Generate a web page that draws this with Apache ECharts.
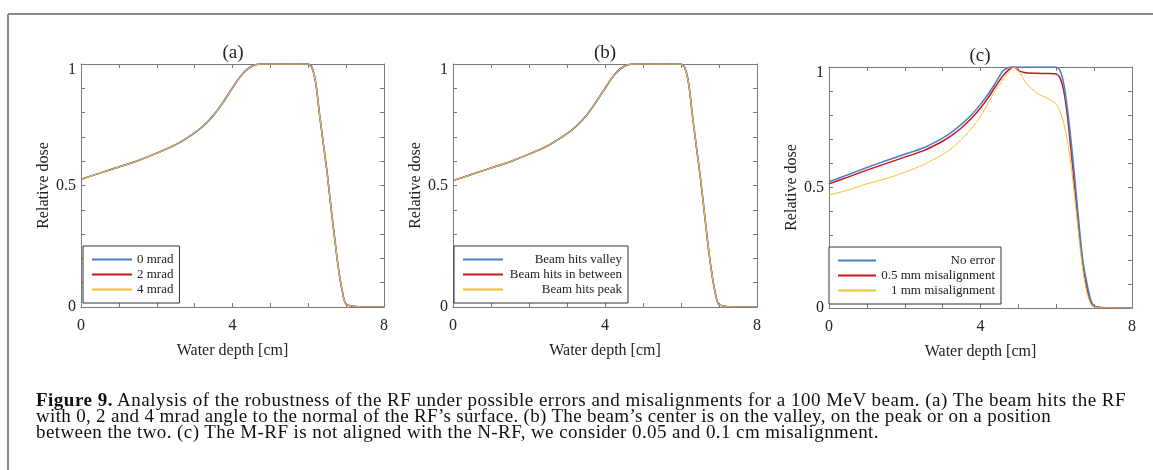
<!DOCTYPE html>
<html>
<head>
<meta charset="utf-8">
<script src="https://cdn.jsdelivr.net/npm/echarts@6/dist/echarts.min.js"></script>
<style>
html,body{margin:0;padding:0;background:#fff;}
#wrap{position:relative;width:1153px;height:470px;overflow:hidden;}
#chart{position:absolute;left:0;top:0;width:1153px;height:470px;}
#caption{position:absolute;left:36px;top:392px;font-family:'Liberation Serif';font-size:19px;line-height:16.2px;color:#111;}
#caption div{white-space:nowrap;}
#caption span.ln{display:inline-block;}
#caption b{font-weight:bold;}
</style>
</head>
<body>
<div id="wrap">
<div id="chart"></div>
<div id="caption"></div>
</div>
<script>
// ---- data ----
const depth = [0, 0.5, 1, 1.5, 2, 2.5, 3, 3.25, 3.5, 3.75, 4, 4.2, 4.4, 4.6, 4.8, 4.9, 5.0, 5.2, 5.5, 5.75, 6.0, 6.1, 6.2, 6.3, 6.4, 6.5, 6.6, 6.7, 6.8, 6.9, 7.0, 7.5, 8];

// panel (a): beam angle
const dose0mrad = [0.526, 0.551, 0.576, 0.602, 0.633, 0.668, 0.717, 0.748, 0.789, 0.842, 0.902, 0.947, 0.980, 0.997, 1.0, 1.0, 1.0, 1.0, 1.0, 1.0, 1.0, 0.985, 0.92, 0.79, 0.67, 0.55, 0.41, 0.28, 0.155, 0.065, 0.012, 0, 0];
const dose2mrad = [0.526, 0.551, 0.576, 0.602, 0.633, 0.668, 0.717, 0.748, 0.789, 0.842, 0.902, 0.947, 0.980, 0.997, 1.0, 1.0, 1.0, 1.0, 1.0, 1.0, 1.0, 0.985, 0.92, 0.79, 0.67, 0.55, 0.41, 0.28, 0.155, 0.065, 0.012, 0, 0];
const dose4mrad = [0.526, 0.551, 0.576, 0.602, 0.633, 0.668, 0.717, 0.748, 0.789, 0.842, 0.902, 0.947, 0.980, 0.997, 1.0, 1.0, 1.0, 1.0, 1.0, 1.0, 1.0, 0.985, 0.92, 0.79, 0.67, 0.55, 0.41, 0.28, 0.155, 0.065, 0.012, 0, 0];

// panel (b): beam position
const doseValley  = [0.52, 0.546, 0.572, 0.598, 0.629, 0.664, 0.713, 0.745, 0.786, 0.840, 0.90, 0.946, 0.980, 0.997, 1.0, 1.0, 1.0, 1.0, 1.0, 1.0, 1.0, 0.985, 0.92, 0.79, 0.665, 0.545, 0.41, 0.27, 0.15, 0.06, 0.01, 0, 0];
const doseBetween = [0.52, 0.546, 0.572, 0.598, 0.629, 0.664, 0.713, 0.745, 0.786, 0.840, 0.90, 0.946, 0.980, 0.997, 1.0, 1.0, 1.0, 1.0, 1.0, 1.0, 1.0, 0.985, 0.92, 0.79, 0.665, 0.545, 0.41, 0.27, 0.15, 0.06, 0.01, 0, 0];
const dosePeak    = [0.52, 0.546, 0.572, 0.598, 0.629, 0.664, 0.713, 0.745, 0.786, 0.840, 0.90, 0.946, 0.980, 0.997, 1.0, 1.0, 1.0, 1.0, 1.0, 1.0, 1.0, 0.985, 0.92, 0.79, 0.665, 0.545, 0.41, 0.27, 0.15, 0.06, 0.01, 0, 0];

// panel (c): misalignment
const doseNoError = [0.524, 0.553, 0.583, 0.611, 0.638, 0.665, 0.705, 0.731, 0.763, 0.800, 0.845, 0.887, 0.935, 0.985, 1.0, 1.0, 1.0, 1.0, 1.0, 1.0, 1.0, 0.985, 0.93, 0.82, 0.68, 0.52, 0.35, 0.20, 0.11, 0.04, 0.008, 0, 0];
const dose05mm    = [0.515, 0.543, 0.572, 0.599, 0.626, 0.653, 0.692, 0.717, 0.748, 0.785, 0.830, 0.872, 0.920, 0.965, 0.995, 1.0, 0.985, 0.976, 0.974, 0.973, 0.971, 0.955, 0.90, 0.79, 0.64, 0.48, 0.32, 0.18, 0.09, 0.03, 0.006, 0, 0];
const dose1mm     = [0.469, 0.489, 0.515, 0.536, 0.563, 0.595, 0.637, 0.663, 0.700, 0.742, 0.795, 0.850, 0.905, 0.946, 0.99, 1.0, 0.985, 0.935, 0.89, 0.872, 0.845, 0.815, 0.765, 0.69, 0.58, 0.44, 0.29, 0.16, 0.07, 0.02, 0.003, 0, 0];

const xTickLabels = ['0', '4', '8'];
const yTickLabels = ['0', '0.5', '1'];
const panelTitles = ['(a)', '(b)', '(c)'];
const xAxisName = 'Water depth [cm]';
const yAxisName = 'Relative dose';
const legendNames = [
  ['0 mrad', '2 mrad', '4 mrad'],
  ['Beam hits valley', 'Beam hits in between', 'Beam hits peak'],
  ['No error', '0.5 mm misalignment', '1 mm misalignment']
];
const panelValues = [
  [dose0mrad, dose2mrad, dose4mrad],
  [doseValley, doseBetween, dosePeak],
  [doseNoError, dose05mm, dose1mm]
];
const captionLabel = 'Figure 9.';
const captionLines = [
  'Analysis of the robustness of the RF under possible errors and misalignments for a 100 MeV beam. (a) The beam hits the RF',
  'with 0, 2 and 4 mrad angle to the normal of the RF\u2019s surface. (b) The beam\u2019s center is on the valley, on the peak or on a position',
  'between the two. (c) The M-RF is not aligned with the N-RF, we consider 0.05 and 0.1 cm misalignment.'
];

// ---- styling / layout ----
const FONT = 'Liberation Serif';
const colors = ['#4a7fcc', '#c8161d', '#f3c232'];
const widths = [1.5, 1.5, 1.0];
const zOrder = [3, 2, 4];
const axisGray = '#7a7a7a';
const grids = [
  {left: 81, top: 64, width: 303, height: 243},
  {left: 453, top: 64, width: 304, height: 243},
  {left: 829, top: 67, width: 303, height: 241}
];
const titlePos = [[233, 53], [605, 53], [980, 56]];
const captionLineWidths = [1090, 1015, 843];

const xAxes = [], yAxes = [], series = [], legends = [];
grids.forEach((g, i) => {
  const common = {
    type: 'value', gridIndex: i, min: 0, max: 8, interval: 1,
    axisLine: {show: true, onZero: false, lineStyle: {color: axisGray, width: 1}},
    axisTick: {show: true, inside: true, length: 4, lineStyle: {color: axisGray}},
    splitLine: {show: false}
  };
  xAxes.push(Object.assign({}, common, {
    position: 'bottom',
    name: xAxisName, nameLocation: 'middle', nameGap: 36,
    nameTextStyle: {fontFamily: FONT, fontSize: 16, color: '#222'},
    axisLabel: {margin: 11, fontFamily: FONT, fontSize: 16, color: '#222',
      formatter: v => xTickLabels.includes(String(v)) ? String(v) : ''}
  }));
  xAxes.push(Object.assign({}, common, {position: 'top', axisLabel: {show: false}}));
  const ycommon = {
    type: 'value', gridIndex: i, min: 0, max: 1, interval: 0.1,
    axisLine: {show: true, onZero: false, lineStyle: {color: axisGray, width: 1}},
    axisTick: {show: true, inside: true, length: 4, lineStyle: {color: axisGray}},
    splitLine: {show: false}
  };
  yAxes.push(Object.assign({}, ycommon, {
    position: 'left',
    name: yAxisName, nameLocation: 'middle', nameGap: 24,
    nameTextStyle: {fontFamily: FONT, fontSize: 16, color: '#222'},
    axisLabel: {margin: 5, fontFamily: FONT, fontSize: 16, color: '#222',
      formatter: v => {
        const s = String(Math.round(v * 10) / 10);
        if (!yTickLabels.includes(s)) return '';
        return s === '1' ? '{d|' + s + '}' : s;
      },
      rich: {d: {padding: [12, 0, 0, 0], fontFamily: FONT, fontSize: 16, color: '#222'}}}
  }));
  yAxes.push(Object.assign({}, ycommon, {position: 'right', axisLabel: {show: false}}));

  legendNames[i].forEach((name, k) => {
    series.push({
      type: 'line', name: name, xAxisIndex: 2 * i, yAxisIndex: 2 * i,
      data: depth.map((d, j) => [d, panelValues[i][k][j]]),
      showSymbol: false, smooth: 0.25, color: colors[k],
      lineStyle: {width: widths[k], color: colors[k]},
      z: zOrder[k]
    });
  });
});

const legendBase = {
  orient: 'vertical', icon: 'rect', itemWidth: 40, itemHeight: 2, itemGap: 2,
  borderColor: '#333', borderWidth: 1, backgroundColor: '#fff', selectedMode: false,
  textStyle: {fontFamily: FONT, fontSize: 13, color: '#222'}
};
legends.push(Object.assign({}, legendBase, {
  left: 83, top: 246, padding: [7, 6, 7, 9], data: legendNames[0]
}));
[[454, 246, 40], [829, 247, 38]].forEach((p, n) => {
  legends.push(Object.assign({}, legendBase, {
    left: p[0], top: p[1], itemWidth: p[2], padding: [7, 6, 7, 9], data: legendNames[n + 1],
    formatter: name => '{r|' + name + '}',
    textStyle: {fontFamily: FONT, fontSize: 13, color: '#222',
      rich: {r: {width: 114, align: 'right', fontFamily: FONT, fontSize: 13, color: '#222'}}}
  }));
});

const graphic = [
  {type: 'line', shape: {x1: 8, y1: 14, x2: 1153, y2: 14}, style: {stroke: '#8a8a8a', lineWidth: 2}},
  {type: 'line', shape: {x1: 8, y1: 14, x2: 8, y2: 470}, style: {stroke: '#8a8a8a', lineWidth: 2}}
];
panelTitles.forEach((t, i) => {
  graphic.push({type: 'text', x: titlePos[i][0], y: titlePos[i][1],
    style: {text: t, fontFamily: FONT, fontSize: 19, fill: '#222', align: 'center', verticalAlign: 'middle'}});
});

const chart = echarts.init(document.getElementById('chart'), null, {renderer: 'canvas'});
chart.setOption({
  animation: false,
  backgroundColor: '#fff',
  textStyle: {fontFamily: FONT},
  grid: grids.map(g => Object.assign({show: false}, g)),
  xAxis: xAxes,
  yAxis: yAxes,
  legend: legends,
  series: series,
  graphic: graphic
});

// ---- caption (real text, letter-spaced to the reference line widths) ----
const cap = document.getElementById('caption');
captionLines.forEach((line, i) => {
  const row = document.createElement('div');
  const span = document.createElement('span');
  span.className = 'ln';
  if (i === 0) {
    const b = document.createElement('b');
    b.textContent = captionLabel;
    span.appendChild(b);
    span.appendChild(document.createTextNode(' ' + line));
  } else {
    span.textContent = line;
  }
  row.appendChild(span);
  cap.appendChild(row);
  const natural = span.getBoundingClientRect().width;
  const n = span.textContent.length;
  const ls = (captionLineWidths[i] - natural) / n;
  span.style.letterSpacing = ls.toFixed(3) + 'px';
});
</script>
</body>
</html>
